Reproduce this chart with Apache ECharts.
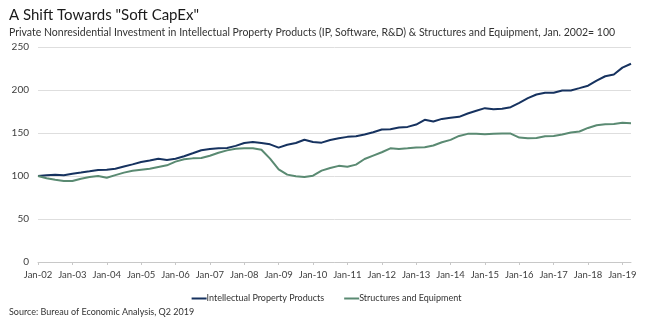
<!DOCTYPE html>
<html>
<head>
<meta charset="utf-8">
<script src="https://cdn.jsdelivr.net/npm/echarts@6/dist/echarts.min.js"></script>
<style>
html,body{margin:0;padding:0;background:#fff;}
#chart{width:653px;height:322px;}
</style>
</head>
<body>
<div id="chart"></div>
<script>
const years = ['02','03','04','05','06','07','08','09','10','11','12','13','14','15','16','17','18','19'];
const months = ['Jan','Apr','Jul','Oct'];
const categories = [];
years.forEach(y => months.forEach(m => categories.push(m + '-' + y)));
categories.length = 70; // 2002Q1 .. 2019Q2

const ipProducts = [
  100, 101, 101.5, 101,
  102.7, 104, 105.4, 107,
  107.4, 108.5, 111, 113.5,
  116.3, 118, 120, 118.6,
  120, 122.9, 126.4, 130,
  131.4, 132.2, 132.6, 135,
  138.4, 139.5, 138.4, 136.8,
  133, 136.4, 138.4, 142.2,
  139.5, 138.8, 141.9, 144,
  145.5, 146.2, 148.2, 150.9,
  154, 154.4, 156.3, 157.1,
  159.8, 165.3, 163.3, 166.4,
  167.6, 168.8, 172.7, 175.8,
  178.9, 177.7, 178.1, 180,
  185.1, 190.5, 194.8, 196.8,
  196.8, 199.5, 199.5, 202.2,
  205, 211, 216, 218.1,
  226, 230.5
];

const structuresEquipment = [
  100, 97.3, 95.7, 94.2,
  94.2, 96.9, 98.8, 100,
  98, 101, 103.9, 106.2,
  107.4, 108.5, 110.5, 112.4,
  116.7, 119.4, 120.5, 121,
  123.6, 127.1, 129.8, 131.8,
  132.2, 132.2, 130.6, 120.2,
  107.8, 101.6, 99.6, 98.8,
  100.4, 106.2, 109.3, 111.8,
  110.7, 113.2, 119.8, 123.7,
  127.6, 132.2, 131.5, 132.2,
  133, 133.4, 135.4, 139.2,
  142, 146.6, 149, 149,
  148.6, 149, 149.3, 149.3,
  144.7, 143.9, 144.3, 146.2,
  146.6, 148.2, 150.5, 151.7,
  155.9, 159, 160.2, 160.6,
  161.8, 161.4
];

const yTicks = {min: 0, max: 250, interval: 50};

const FONT = 'Lato, "Noto Sans", sans-serif';
const chart = echarts.init(document.getElementById('chart'), null, {renderer: 'canvas'});
chart.setOption({
  animation: false,
  backgroundColor: '#ffffff',
  title: [
    {text: 'A Shift Towards "Soft CapEx"', left: 4, top: 3,
     textStyle: {fontFamily: FONT, fontSize: 15, fontWeight: 'normal', color: '#1a1a1a'}},
    {text: 'Private Nonresidential Investment in Intellectual Property Products (IP, Software, R&D) & Structures and Equipment, Jan. 2002= 100',
     left: 4, top: 22,
     textStyle: {fontFamily: FONT, fontSize: 10.5, fontWeight: 'normal', color: '#333333'}},
    {text: 'Source: Bureau of Economic Analysis, Q2 2019', left: 4, top: 303,
     textStyle: {fontFamily: FONT, fontSize: 9, fontWeight: 'normal', color: '#333333'}}
  ],
  legend: {
    top: 289, left: 'center', itemGap: 20,
    icon: 'rect', itemWidth: 15, itemHeight: 2,
    textStyle: {fontFamily: FONT, fontSize: 9, color: '#333333', padding: [0, 0, 0, -5]},
    data: ['Intellectual Property Products', 'Structures and Equipment']
  },
  grid: {left: 38, right: 22, top: 47, bottom: 60, containLabel: false},
  xAxis: {
    type: 'category', data: categories, boundaryGap: false,
    axisLine: {lineStyle: {color: '#c8c8c8'}},
    axisTick: {interval: 3, length: 3, lineStyle: {color: '#c8c8c8'}},
    axisLabel: {interval: 3, margin: 8, fontFamily: FONT, fontSize: 9.5, color: '#404040'},
    splitLine: {show: false}
  },
  yAxis: {
    type: 'value', min: yTicks.min, max: yTicks.max, interval: yTicks.interval,
    axisLine: {show: false}, axisTick: {show: false},
    axisLabel: {margin: 9, fontFamily: FONT, fontSize: 10, color: '#404040'},
    splitLine: {lineStyle: {color: '#dedede', width: 1}}
  },
  series: [
    {name: 'Intellectual Property Products', type: 'line', data: ipProducts,
     showSymbol: false, symbol: 'none', lineStyle: {color: '#16325f', width: 2}, itemStyle: {color: '#16325f'}},
    {name: 'Structures and Equipment', type: 'line', data: structuresEquipment,
     showSymbol: false, symbol: 'none', lineStyle: {color: '#5a8a72', width: 2}, itemStyle: {color: '#5a8a72'}}
  ]
});
</script>
</body>
</html>
